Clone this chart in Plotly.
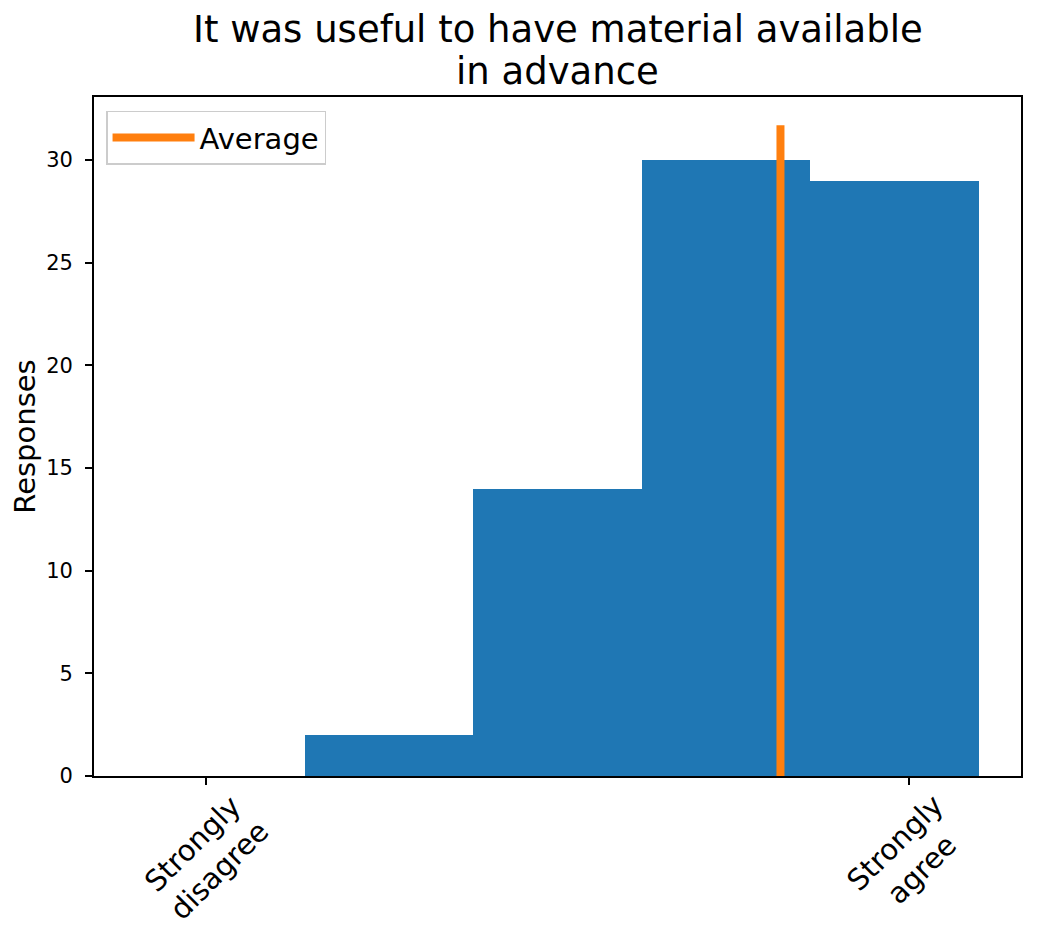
import numpy as np
import plotly.graph_objects as go

# ==== Data ====
bin_edges = [0.6, 1.56, 2.52, 3.48, 4.44, 5.4]   # histogram bin edges (score scale 1..5)
counts = [0, 2, 14, 30, 29]                        # responses per bin
average_score = 4.27                               # position of the "Average" marker
tick_values = [1, 5]
tick_labels = ["Strongly<br>disagree", "Strongly<br>agree"]
y_ticks = [0, 5, 10, 15, 20, 25, 30]

title_lines = ["It was useful to have material available", "in advance"]

FONT = "DejaVu Sans"
BLUE = "#1f77b4"
ORANGE = "#ff7f0e"

edges = np.array(bin_edges)
centers = (edges[:-1] + edges[1:]) / 2
widths = np.diff(edges)
avg_top = max(counts) * 1.05
cap_ext = 0.2  # matplotlib-style projecting line cap

fig = go.Figure()

fig.add_trace(
    go.Bar(
        x=centers,
        y=counts,
        width=widths,
        marker=dict(color=BLUE, line=dict(width=0)),
        showlegend=False,
    )
)

fig.add_trace(
    go.Scatter(
        x=[average_score, average_score],
        y=[0, avg_top + cap_ext],
        mode="lines",
        name="Average",
        line=dict(color=ORANGE, width=8),
    )
)

# rotated category labels under the two end ticks
for val, lab in zip(tick_values, tick_labels):
    fig.add_annotation(
        x=val, y=0, xref="x", yref="paper",
        text=lab, textangle=-45, showarrow=False,
        xanchor="center", yanchor="top", yshift=-9,
        font=dict(family=FONT, size=29, color="black"),
    )

# two-line title, one annotation per line
for line, shift in zip(title_lines, [44, 2]):
    fig.add_annotation(
        x=0.5, y=1, xref="paper", yref="paper",
        text=line, showarrow=False,
        xanchor="center", yanchor="bottom", yshift=shift,
        font=dict(family=FONT, size=37, color="black"),
    )

axis_common = dict(
    showline=True, mirror=True, linecolor="black", linewidth=1.7,
    ticks="outside", ticklen=7, tickwidth=1.7, tickcolor="black",
    showgrid=False, zeroline=False,
)

fig.update_xaxes(
    range=[0.36, 5.64],
    tickvals=tick_values,
    showticklabels=False,
    **axis_common,
)
fig.update_yaxes(
    range=[0, avg_top * 1.05],
    tickvals=y_ticks,
    tickfont=dict(family=FONT, size=21, color="black"),
    ticklabelstandoff=8,
    title=dict(text="Responses", font=dict(family=FONT, size=29, color="black"), standoff=6),
    **axis_common,
)

fig.update_layout(
    width=1037,
    height=937,
    margin=dict(l=83, r=24, t=89, b=169),
    paper_bgcolor="white",
    plot_bgcolor="white",
    bargap=0,
    font=dict(family=FONT, color="black"),
    legend=dict(
        x=0.013, y=0.98, xanchor="left", yanchor="top",
        bgcolor="rgba(255,255,255,0.8)",
        bordercolor="#cccccc", borderwidth=1.5,
        itemwidth=82,
        font=dict(family=FONT, size=29, color="black"),
    ),
)

fig.write_html("out.html")
